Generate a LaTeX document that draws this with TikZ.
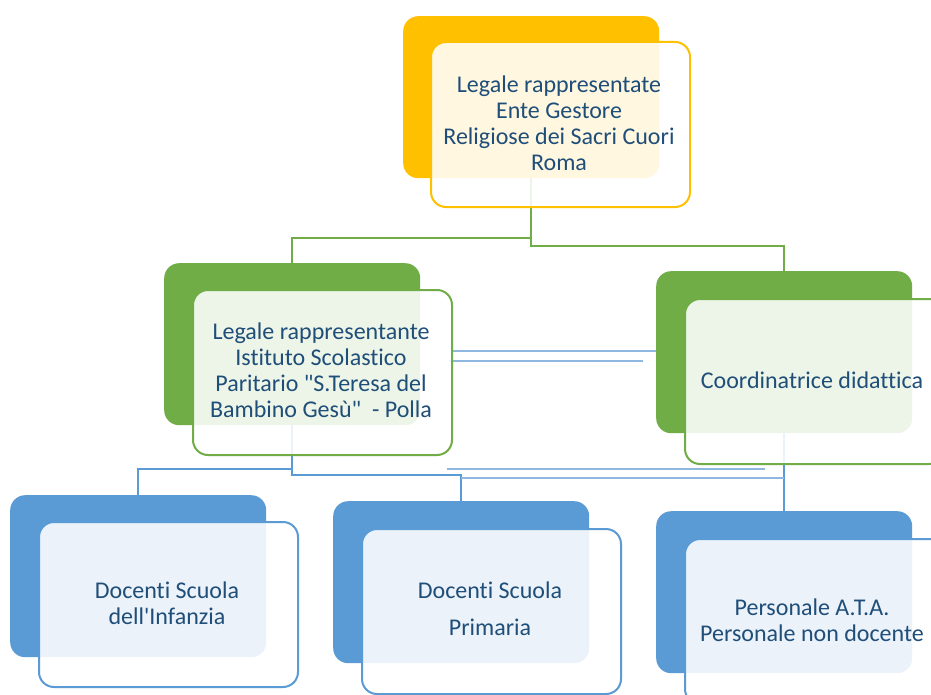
\documentclass[tikz,border=0pt]{standalone}
\usepackage{fontspec}
\setmainfont{Carlito}[Ligatures={TeXOff,NoCommon}]
\definecolor{gold}{HTML}{FFC000}
\definecolor{leaf}{HTML}{70AD47}
\definecolor{sky}{HTML}{5B9BD5}
\definecolor{skylt}{HTML}{8FB8E0}
\definecolor{txt}{HTML}{1F4E79}
\tikzset{
  back/.style={draw=none, rounded corners=15pt, minimum width=256pt, minimum height=162pt, anchor=north west, inner sep=0pt},
  front/.style={rounded corners=15pt, line width=2pt, fill=white, fill opacity=0.88, minimum width=259pt, minimum height=165pt, anchor=north west, inner sep=0pt},
  lbl/.style={font=\fontsize{24}{26}\selectfont, text=txt, align=center, inner sep=0pt},
  gline/.style={draw=leaf, line width=2pt},
  bline/.style={draw=sky, line width=2pt},
  bthin/.style={draw=skylt, line width=1.5pt}
}
\begin{document}
\begin{tikzpicture}[x=1pt,y=-1pt]
\clip (0,0) rectangle (931,695);
\fill[white] (0,0) rectangle (931,695);
% back boxes
\node[back, fill=gold] (tb) at (403,16) {};
\node[back, fill=leaf] (Lb) at (164,263) {};
\node[back, fill=leaf] (Rb) at (656,271) {};
\node[back, fill=sky] (B1b) at (10,495) {};
\node[back, fill=sky] (B2b) at (333,501) {};
\node[back, fill=sky] (B3b) at (656,511) {};
% connectors
\draw[gline] (tb.south) -- ++(0,60) -| ([yshift=-3pt]Lb.north);
\draw[gline] (tb.south) -- ++(0,68) -| ([yshift=-3pt]Rb.north);
\draw[bline] (Lb.south) -- ++(0,44) -| ([yshift=-1pt]B1b.north);
\draw[bline] (Lb.south) -- ++(0,50) -| ([yshift=-3pt]B2b.north);
\draw[bline] (Rb.south) -- ([yshift=-3pt]B3b.north);
\draw[bthin] (B2b.north |- 0,478) -- (Rb.south |- 0,478);
\draw[bthin] ([xshift=-14pt]B2b.north |- 0,469) -- ([xshift=-19pt]Rb.south |- 0,469);
\coordinate (d1) at (452,351);
\coordinate (d2) at (449,361);
\draw[bthin] (d1) -- (d1 -| Rb.west);
\draw[bthin] (d2) -- ([xshift=-13pt]d2 -| Rb.west);
% front boxes
\node[front, draw=gold] (tf) at (430,41) {};
\node[front, draw=leaf] (Lf) at (192,289) {};
\node[front, draw=leaf] (Rf) at (684,298) {};
\node[front, draw=sky] (B1f) at (38,521) {};
\node[front, draw=sky] (B2f) at (361,528) {};
\node[front, draw=sky] (B3f) at (684,538) {};
% labels
\node[lbl] (tt) at (559,123) {Legale rappresentate\\Ente Gestore\\Religiose dei Sacri Cuori\\Roma};
\node[lbl] (Lt) at (321,370) {Legale rappresentante\\Istituto Scolastico\\Paritario "S.Teresa del\\Bambino Gesù"\ \ - Polla};
\node[lbl] (Rt) at (812,380) {Coordinatrice didattica};
\node[lbl] (B1t) at (167,603) {Docenti Scuola\\dell'Infanzia};
\node[lbl] (B2t) at (490,609) {Docenti Scuola\\[11pt]Primaria};
\node[lbl] (B3t) at (812,620) {Personale A.T.A.\\Personale non docente};
\end{tikzpicture}
\end{document}
